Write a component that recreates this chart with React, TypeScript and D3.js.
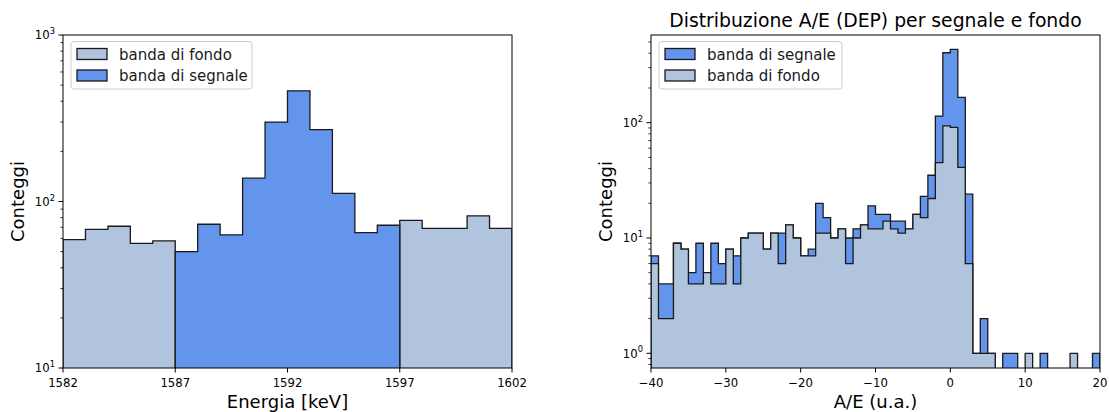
import React from 'react';
import * as d3 from 'd3';

// ---- Energy spectrum around the DEP (1 keV bins) ----
const energyEdges = [
  1582, 1583, 1584, 1585, 1586, 1587, 1588, 1589, 1590, 1591, 1592,
  1593, 1594, 1595, 1596, 1597, 1598, 1599, 1600, 1601, 1602,
];
const energyFondo = [59, 68, 71, 56, 58, 0, 0, 0, 0, 0, 0, 0, 0, 0, 0, 77, 69, 69, 82, 69];
const energySegnale = [0, 0, 0, 0, 0, 50, 73, 63, 138, 300, 462, 270, 112, 65, 72, 0, 0, 0, 0, 0];
const energyTicks = [1582, 1587, 1592, 1597, 1602];

// ---- A/E distribution (1 u.a. bins from -40 to 20) ----
const aeEdges = [
  -40, -39, -38, -37, -36, -35, -34, -33, -32, -31, -30, -29, -28, -27, -26, -25,
  -24, -23, -22, -21, -20, -19, -18, -17, -16, -15, -14, -13, -12, -11, -10, -9,
  -8, -7, -6, -5, -4, -3, -2, -1, 0, 1, 2, 3, 4, 5, 6, 7, 8, 9, 10, 11, 12, 13,
  14, 15, 16, 17, 18, 19, 20,
];
const aeSegnale = [
  7, 4, 4, 9, 8, 5, 9, 5, 9, 6, 8, 7, 10, 11, 11, 8, 11, 11, 13, 10,
  7, 8, 20, 15, 10, 12, 10, 12, 13, 19, 16, 16, 14, 14, 12, 16, 23, 35, 114, 404,
  433, 166, 24, 1, 2, 1, 0, 1, 1, 0, 0, 0, 1, 0, 0, 0, 0, 0, 0, 1,
];
const aeFondo = [
  6, 2, 2, 9, 8, 4, 4, 5, 4, 4, 8, 4, 10, 11, 11, 8, 11, 6, 13, 10,
  7, 7, 11, 11, 10, 12, 6, 10, 13, 12, 12, 14, 12, 11, 12, 16, 15, 22, 45, 94,
  91, 41, 6, 1, 1, 1, 0, 0, 0, 0, 1, 0, 0, 0, 0, 0, 1, 0, 0, 0,
];
const aeTicks = [-40, -30, -20, -10, 0, 10, 20];

const W = 1109;
const H = 412;
const FONT = "'DejaVu Sans', sans-serif";
const FONDO = '#b0c4de';
const SEGNALE = '#6495ed';
const EDGE = '#1a1a1a';
const TICK_FS = 11.7;
const LABEL_FS = 18;
const TITLE_FS = 18.8;
const LEGEND_FS = 15;

type Scale = d3.ScaleLinear<number, number> | d3.ScaleLogarithmic<number, number>;

// closed step outline of a histogram, zero counts drop far below the axes
function stepPath(edges: number[], counts: number[], x: Scale, y: Scale) {
  const yv = (c: number) => y(c > 0 ? c : 1e-4);
  const n = counts.length;
  let d = `M${x(edges[0])},${yv(0)}`;
  counts.forEach((c, i) => {
    d += `L${x(edges[i])},${yv(c)}L${x(edges[i + 1])},${yv(c)}`;
  });
  d += `L${x(edges[n])},${yv(0)}Z`;
  return d;
}

function minusify(v: number) {
  return v < 0 ? `\u2212${Math.abs(v)}` : `${v}`;
}

interface PanelProps {
  id: string;
  x0: number;
  x1: number;
  y0: number;
  y1: number;
  xDomain: [number, number];
  yDomain: [number, number];
  xTicks: number[];
  xLabel: string;
  title?: string;
  layers: { edges: number[]; counts: number[]; fill: string }[];
  legend: { label: string; fill: string }[];
}

function Panel(p: PanelProps) {
  const x = d3.scaleLinear().domain(p.xDomain).range([p.x0, p.x1]);
  const y = d3.scaleLog().domain(p.yDomain).range([p.y1, p.y0]);

  const lo = Math.floor(Math.log10(p.yDomain[0]));
  const hi = Math.ceil(Math.log10(p.yDomain[1]));
  const majors: number[] = [];
  const minors: number[] = [];
  for (let k = lo; k <= hi; k++) {
    const base = Math.pow(10, k);
    if (base >= p.yDomain[0] * 0.9999 && base <= p.yDomain[1] * 1.0001) majors.push(k);
    for (let m = 2; m <= 9; m++) {
      const v = m * base;
      if (v >= p.yDomain[0] && v <= p.yDomain[1]) minors.push(v);
    }
  }

  const cx = (p.x0 + p.x1) / 2;
  const cy = (p.y0 + p.y1) / 2;
  const lgX = p.x0 + 8;
  const lgY = p.y0 + 6.5;

  return (
    <g>
      <defs>
        <clipPath id={`clip-${p.id}`}>
          <rect x={p.x0} y={p.y0} width={p.x1 - p.x0} height={p.y1 - p.y0} />
        </clipPath>
      </defs>
      <g clipPath={`url(#clip-${p.id})`}>
        {p.layers.map((l, i) => (
          <path
            key={i}
            d={stepPath(l.edges, l.counts, x, y)}
            fill={l.fill}
            stroke={EDGE}
            strokeWidth={1.3}
            strokeLinejoin="miter"
          />
        ))}
      </g>
      {/* spines */}
      <rect
        x={p.x0}
        y={p.y0}
        width={p.x1 - p.x0}
        height={p.y1 - p.y0}
        fill="none"
        stroke="#000"
        strokeWidth={1}
      />
      {/* x ticks */}
      {p.xTicks.map((t) => (
        <g key={`xt${t}`}>
          <line x1={x(t)} x2={x(t)} y1={p.y1} y2={p.y1 + 4.5} stroke="#000" strokeWidth={1} />
          <text
            x={x(t)}
            y={p.y1 + 19}
            textAnchor="middle"
            fontFamily={FONT}
            fontSize={TICK_FS}
            fill="#000"
          >
            {minusify(t)}
          </text>
        </g>
      ))}
      {/* y major ticks with 10^k labels */}
      {majors.map((k) => (
        <g key={`ym${k}`}>
          <line
            x1={p.x0 - 4.5}
            x2={p.x0}
            y1={y(Math.pow(10, k))}
            y2={y(Math.pow(10, k))}
            stroke="#000"
            strokeWidth={1}
          />
          <text
            x={p.x0 - 8}
            y={y(Math.pow(10, k)) + 4.3}
            textAnchor="end"
            fontFamily={FONT}
            fontSize={TICK_FS}
            fill="#000"
          >
            <tspan>10</tspan>
            <tspan dy={-5.2} fontSize={8.3}>
              {k}
            </tspan>
          </text>
        </g>
      ))}
      {minors.map((v) => (
        <line
          key={`yn${v}`}
          x1={p.x0 - 2.6}
          x2={p.x0}
          y1={y(v)}
          y2={y(v)}
          stroke="#000"
          strokeWidth={0.8}
        />
      ))}
      {/* axis labels */}
      <text
        x={cx}
        y={p.y1 + 40}
        textAnchor="middle"
        fontFamily={FONT}
        fontSize={LABEL_FS}
        fill="#000"
      >
        {p.xLabel}
      </text>
      <text
        transform={`translate(${p.x0 - 39},${cy}) rotate(-90)`}
        textAnchor="middle"
        fontFamily={FONT}
        fontSize={LABEL_FS}
        fill="#000"
      >
        Conteggi
      </text>
      {p.title && (
        <text
          x={cx}
          y={p.y0 - 8}
          textAnchor="middle"
          fontFamily={FONT}
          fontSize={TITLE_FS}
          fill="#000"
        >
          {p.title}
        </text>
      )}
      {/* legend */}
      <g>
        <rect
          x={lgX}
          y={lgY}
          width={p.id === 'energy' ? 181 : 183}
          height={47.5}
          rx={3}
          fill="#fff"
          fillOpacity={0.8}
          stroke="#cccccc"
          strokeWidth={1}
        />
        {p.legend.map((e, i) => (
          <g key={e.label}>
            <rect
              x={lgX + 6}
              y={lgY + 7 + i * 21.5}
              width={30}
              height={11}
              fill={e.fill}
              stroke={EDGE}
              strokeWidth={1.3}
            />
            <text
              x={lgX + 48}
              y={lgY + 18 + i * 21.5}
              fontFamily={FONT}
              fontSize={LEGEND_FS}
              fill="#1a1a1a"
            >
              {e.label}
            </text>
          </g>
        ))}
      </g>
    </g>
  );
}

export default function App() {
  return (
    <svg
      width={W}
      height={H}
      viewBox={`0 0 ${W} ${H}`}
      style={{ position: 'absolute', left: 0, top: 0, background: '#fff' }}
    >
      <rect x={0} y={0} width={W} height={H} fill="#fff" />
      <Panel
        id="energy"
        x0={63}
        x1={512}
        y0={35}
        y1={368}
        xDomain={[1582, 1602]}
        yDomain={[10, 1000]}
        xTicks={energyTicks}
        xLabel="Energia [keV]"
        layers={[
          { edges: energyEdges, counts: energyFondo, fill: FONDO },
          { edges: energyEdges, counts: energySegnale, fill: SEGNALE },
        ]}
        legend={[
          { label: 'banda di fondo', fill: FONDO },
          { label: 'banda di segnale', fill: SEGNALE },
        ]}
      />
      <Panel
        id="ae"
        x0={651}
        x1={1100}
        y0={35}
        y1={368}
        xDomain={[-40, 20]}
        yDomain={[0.7456, 576]}
        xTicks={aeTicks}
        xLabel="A/E (u.a.)"
        title="Distribuzione A/E (DEP) per segnale e fondo"
        layers={[
          { edges: aeEdges, counts: aeSegnale, fill: SEGNALE },
          { edges: aeEdges, counts: aeFondo, fill: FONDO },
        ]}
        legend={[
          { label: 'banda di segnale', fill: SEGNALE },
          { label: 'banda di fondo', fill: FONDO },
        ]}
      />
    </svg>
  );
}
